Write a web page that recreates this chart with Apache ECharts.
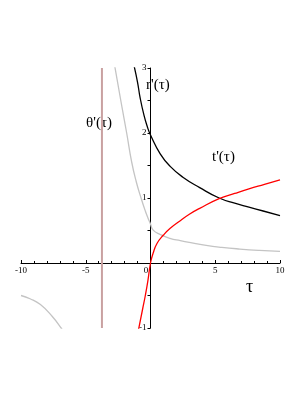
<!DOCTYPE html>
<html><head><meta charset="utf-8">
<script src="https://cdn.jsdelivr.net/npm/echarts@6/dist/echarts.min.js"></script>
<style>html,body{margin:0;padding:0;background:#fff}#c{width:306px;height:396px}</style>
</head><body><div id="c"></div>
<script>
// r'(τ) black curve [τ, value]
const rPrime = [[-1.3,3.06],[-1.0,2.78],[-0.8,2.54],[-0.5,2.27],[-0.25,2.1],[0,1.97],[0.75,1.68],[1.5,1.49],[2.5,1.32],[3.8,1.16],[5.3,1.0],[6.5,0.92],[7.6,0.86],[8.7,0.8],[10,0.73]];
// t'(τ) red curve
const tPrime = [[-0.93,-1.03],[-0.6,-0.7],[-0.4,-0.5],[-0.2,-0.27],[0,0],[0.2,0.15],[0.5,0.3],[1.0,0.43],[1.5,0.53],[2.3,0.65],[3.0,0.75],[3.8,0.84],[5.3,0.99],[6.5,1.07],[7.6,1.14],[8.8,1.21],[10,1.28]];
// θ'(τ) gray curve, upper branch and lower branch
const thetaUpper = [[-2.78,3.05],[-2.25,2.45],[-1.84,2.0],[-1.45,1.55],[-1.1,1.25],[-0.73,1.0],[-0.4,0.8],[-0.19,0.69],[0,0.6],[0.19,0.51],[0.73,0.44],[1.5,0.38],[2.3,0.345],[3.2,0.31],[4.3,0.27],[5.5,0.24],[6.9,0.215],[8.4,0.195],[10,0.18]];
const thetaLower = [[-10,-0.5],[-9.3,-0.55],[-8.5,-0.64],[-7.6,-0.82],[-6.9,-1.0],[-6.6,-1.1]];
// vertical line position
const vLineTau = -3.75;
const xTicks = [-10,-5,0,5,10];
const yRange = [-1,3];

const W = 306, H = 396;
const G = {left:21,right:26,top:68,bottom:68};
const plotW = W - G.left - G.right, plotH = H - G.top - G.bottom;
// shift axes to cross at the origin (offset derived from axis ranges)
const xAxisOffset = -plotH * (0 - yRange[0]) / (yRange[1] - yRange[0]);
const yAxisOffset = -plotW * (0 - xTicks[0]) / (xTicks[xTicks.length-1] - xTicks[0]);

const chart = echarts.init(document.getElementById('c'));
const serif = 'Liberation Serif';
const sm = {smooth:0.5, showSymbol:false};
chart.setOption({
  animation:false,
  grid:G,
  xAxis:{type:'value',min:xTicks[0],max:xTicks[xTicks.length-1],interval:5,position:'bottom',offset:xAxisOffset,
    axisLine:{onZero:false,lineStyle:{color:'#000',width:1}},
    axisTick:{inside:true,length:3,lineStyle:{color:'#000'}},
    minorTick:{show:true,splitNumber:5,length:2,lineStyle:{color:'#000'}},
    splitLine:{show:false},
    axisLabel:{margin:3,fontFamily:serif,fontSize:9,color:'#000',
      formatter:v=> v===0 ? '{z|0}' : String(v),
      rich:{z:{padding:[0,9,0,0],fontFamily:serif,fontSize:9,color:'#000'}}}},
  yAxis:{type:'value',min:yRange[0],max:yRange[1],interval:0.5,position:'left',offset:yAxisOffset,
    axisLine:{onZero:false,lineStyle:{color:'#000',width:1}},
    axisTick:{length:3,lineStyle:{color:'#000'}},
    splitLine:{show:false},
    axisLabel:{margin:4,fontFamily:serif,fontSize:9,color:'#000',
      formatter:v=> (v%1===0 && v!==0) ? String(v) : ''}},
  series:[
    {type:'line',data:[[vLineTau,yRange[0]],[vLineTau,yRange[1]]],showSymbol:false,lineStyle:{color:'#c9a1a1',width:2}},
    Object.assign({type:'line',data:thetaUpper,lineStyle:{color:'#c4c4c4',width:1.3}},sm),
    Object.assign({type:'line',data:thetaLower,lineStyle:{color:'#c4c4c4',width:1.3}},sm),
    Object.assign({type:'line',data:rPrime,lineStyle:{color:'#000',width:1.3}},sm),
    Object.assign({type:'line',data:tPrime,lineStyle:{color:'#ff0000',width:1.3}},sm)
  ],
  graphic:[
    {type:'text',left:86,top:116,style:{text:"θ'(τ)",font:'15px "Liberation Serif"',fill:'#000'}},
    {type:'text',left:146,top:78,style:{text:"r'(τ)",font:'15px "Liberation Serif"',fill:'#000'}},
    {type:'text',left:212,top:150,style:{text:"t'(τ)",font:'15px "Liberation Serif"',fill:'#000'}},
    {type:'text',left:246,top:278,style:{text:"τ",font:'18px "Liberation Serif"',fill:'#000'}}
  ]
});
</script></body></html>
